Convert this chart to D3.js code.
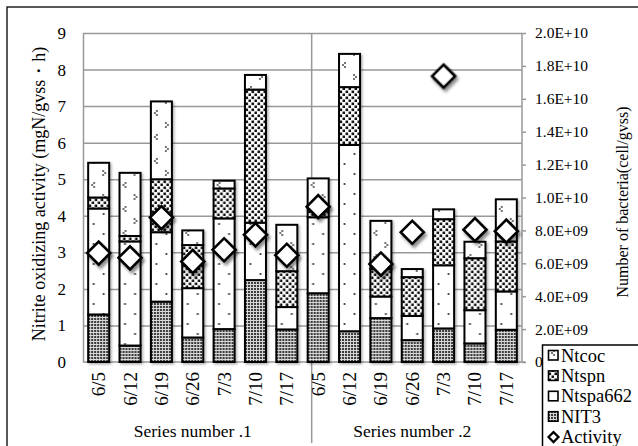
<!DOCTYPE html>
<html>
<head>
<meta charset="utf-8">
<script src="https://cdn.jsdelivr.net/npm/d3@7/dist/d3.min.js"></script>
<style>
  html, body { margin: 0; padding: 0; background: #fff; }
  svg text { font-family: "Liberation Serif", "Times New Roman", Times, "DejaVu Serif", serif !important; fill: #000; }
</style>
</head>
<body>
<div id="chart"></div>
<script>
// Sampling dates (repeated for each series) and series group labels
const categories = ["6/5", "6/12", "6/19", "6/26", "7/3", "7/10", "7/17"];
const groups = ["Series number .1", "Series number .2"];

// Bacteria counts per group (cell/gvss), stacked bottom to top: NIT3, Ntspa662, Ntspn, Ntcoc
const nit3     = [2.89e9, 1.00e9, 3.67e9, 1.49e9, 2.00e9, 4.98e9, 1.98e9, 4.18e9, 1.87e9, 2.67e9, 1.33e9, 2.04e9, 1.13e9, 1.96e9];
const ntspa662 = [6.44e9, 6.33e9, 4.22e9, 3.00e9, 6.73e9, 3.49e9, 1.36e9, 4.62e9, 11.33e9, 1.31e9, 1.47e9, 3.84e9, 2.02e9, 2.33e9];
const ntspn    = [0.67e9, 0.33e9, 3.22e9, 2.62e9, 1.82e9, 8.09e9, 2.18e9, 0.58e9, 3.51e9, 1.67e9, 2.36e9, 2.80e9, 3.16e9, 3.04e9];
const ntcoc    = [2.11e9, 3.84e9, 4.73e9, 0.89e9, 0.47e9, 0.89e9, 2.82e9, 1.78e9, 2.02e9, 2.93e9, 0.49e9, 0.60e9, 1.00e9, 2.56e9];

// Nitrite oxidizing activity (mgN/gvss・h); null where not measured
const activity = [2.98, 2.85, 3.95, 2.75, 3.07, 3.48, 2.92, 4.25, null, 2.68, 3.55, 7.82, 3.62, 3.58];

// Axis tick values
const leftTicks = [0, 1, 2, 3, 4, 5, 6, 7, 8, 9];
const rightTicks = [0, 2e9, 4e9, 6e9, 8e9, 1e10, 1.2e10, 1.4e10, 1.6e10, 1.8e10, 2e10];

const W = 638, H = 446;
const m = { left: 83, right: 522, top: 33, bottom: 362 };

const svg = d3.select("#chart").append("svg").attr("width", W).attr("height", H);
const defs = svg.append("defs");

// soft drop shadows
const shadow = defs.append("filter").attr("id", "shadow").attr("x", "-50%").attr("y", "-50%").attr("width", "200%").attr("height", "200%");
shadow.append("feDropShadow").attr("dx", 2).attr("dy", 3).attr("stdDeviation", 1.8).attr("flood-color", "#000").attr("flood-opacity", 0.45);
const shadowBar = defs.append("filter").attr("id", "shadowBar").attr("x", "-20%").attr("y", "-5%").attr("width", "140%").attr("height", "110%");
shadowBar.append("feDropShadow").attr("dx", 1.5).attr("dy", 1.5).attr("stdDeviation", 1.2).attr("flood-color", "#000").attr("flood-opacity", 0.3);

const nBars = nit3.length;
const keys = d3.range(nBars);

const x = d3.scaleBand().domain(keys).range([m.left, m.right]).paddingInner(0.33).paddingOuter(0.165);
const yL = d3.scaleLinear().domain([0, 9]).range([m.bottom, m.top]);
const yR = d3.scaleLinear().domain([0, 2e10]).range([m.bottom, m.top]);

// Fill patterns, one set per bar so the texture lines up with each bar's left edge
function makePatterns(id, ox) {
  // NIT3: dense dark dot grid
  const p1 = defs.append("pattern").attr("id", "nit3-" + id).attr("patternUnits", "userSpaceOnUse")
    .attr("width", 3).attr("height", 3).attr("x", ox).attr("y", 0);
  p1.append("rect").attr("width", 3).attr("height", 3).attr("fill", "#d8d8d8");
  p1.append("rect").attr("width", 2).attr("height", 2).attr("fill", "#3a3a3a");
  // Ntspa662: sparse dots
  const p2 = defs.append("pattern").attr("id", "spa-" + id).attr("patternUnits", "userSpaceOnUse")
    .attr("width", 21).attr("height", 20).attr("x", ox).attr("y", 0);
  p2.append("rect").attr("width", 21).attr("height", 20).attr("fill", "#fff");
  p2.append("circle").attr("cx", 5.5).attr("cy", 4).attr("r", 1.1).attr("fill", "#333");
  p2.append("circle").attr("cx", 15.5).attr("cy", 14).attr("r", 1.1).attr("fill", "#333");
  // Ntspn: checkerboard
  const p3 = defs.append("pattern").attr("id", "spn-" + id).attr("patternUnits", "userSpaceOnUse")
    .attr("width", 6).attr("height", 6).attr("x", ox).attr("y", 0);
  p3.append("rect").attr("width", 6).attr("height", 6).attr("fill", "#fff");
  p3.append("rect").attr("x", 0.5).attr("y", 0.5).attr("width", 2.6).attr("height", 2.6).attr("fill", "#111");
  p3.append("rect").attr("x", 3.5).attr("y", 3.5).attr("width", 2.6).attr("height", 2.6).attr("fill", "#111");
  // Ntcoc: small three-dot clusters
  const p4 = defs.append("pattern").attr("id", "coc-" + id).attr("patternUnits", "userSpaceOnUse")
    .attr("width", 21).attr("height", 24).attr("x", ox).attr("y", 0);
  p4.append("rect").attr("width", 21).attr("height", 24).attr("fill", "#fff");
  [[15, 3], [17, 5], [15, 7], [6, 15], [4, 17], [6, 19]].forEach(([cx, cy]) =>
    p4.append("circle").attr("cx", cx).attr("cy", cy).attr("r", 0.9).attr("fill", "#333"));
}
keys.forEach(i => makePatterns(i, x(i)));
makePatterns("lg", 548);

// Outer chart frame
svg.append("rect").attr("x", 7).attr("y", 7).attr("width", W + 10).attr("height", H + 10)
  .attr("fill", "none").attr("stroke", "#000").attr("stroke-width", 1.3);

// Gridlines on the left scale
svg.append("g").attr("transform", `translate(${m.left},0)`)
  .call(d3.axisLeft(yL).tickValues(leftTicks.slice(1)).tickSize(-(m.right - m.left)).tickFormat(""))
  .call(g => g.select(".domain").remove())
  .call(g => g.selectAll("line").attr("stroke", "#999").attr("stroke-width", 1.5));

// Left axis
svg.append("g").attr("transform", `translate(${m.left},0)`)
  .call(d3.axisLeft(yL).tickValues(leftTicks).tickSize(0).tickPadding(17))
  .call(g => g.select(".domain").attr("stroke", "#999").attr("stroke-width", 1.5))
  .call(g => g.selectAll("text").attr("font-size", 17));

// Right axis
function sci(v) {
  if (v === 0) return "0";
  const e = Math.floor(Math.log10(v) + 1e-9);
  const mant = (v / Math.pow(10, e)).toFixed(1);
  return `${mant}E+${String(e).padStart(2, "0")}`;
}
svg.append("g").attr("transform", `translate(${m.right},0)`)
  .call(d3.axisRight(yR).tickValues(rightTicks).tickSize(4).tickPadding(9).tickFormat(sci))
  .call(g => g.select(".domain").attr("stroke", "#999").attr("stroke-width", 1.5).attr("d", `M0,${m.bottom}V${m.top}`))
  .call(g => g.selectAll("line").attr("stroke", "#999").attr("stroke-width", 1.5))
  .call(g => g.selectAll("text").attr("font-size", 15.5));

// Baseline
svg.append("line").attr("x1", m.left).attr("x2", m.right + 3).attr("y1", m.bottom).attr("y2", m.bottom)
  .attr("stroke", "#999").attr("stroke-width", 1.5);

// Group separator
const sepX = x(categories.length) + 4;
svg.append("line").attr("x1", sepX).attr("x2", sepX).attr("y1", m.top).attr("y2", 443)
  .attr("stroke", "#999").attr("stroke-width", 1.5);

// Stacked bars
const rows = keys.map(i => ({ i, nit3: nit3[i], spa: ntspa662[i], spn: ntspn[i], coc: ntcoc[i] }));
const stack = d3.stack().keys(["nit3", "spa", "spn", "coc"])(rows);

const bars = svg.append("g").attr("filter", "url(#shadowBar)");
stack.forEach(layer => {
  bars.append("g").selectAll("rect").data(layer).join("rect")
    .attr("x", d => x(d.data.i))
    .attr("width", x.bandwidth())
    .attr("y", d => yR(d[1]))
    .attr("height", d => yR(d[0]) - yR(d[1]))
    .attr("fill", d => `url(#${layer.key}-${d.data.i})`)
    .attr("stroke", "#000").attr("stroke-width", 2);
});

// Activity markers
const diamond = d3.symbol().type(d3.symbolSquare).size(265);
svg.append("g").attr("filter", "url(#shadow)").selectAll("path")
  .data(keys.filter(i => activity[i] != null)).join("path")
  .attr("d", diamond)
  .attr("transform", i => `translate(${x(i) + x.bandwidth() / 2},${yL(activity[i])}) rotate(45)`)
  .attr("fill", "#fff").attr("stroke", "#000").attr("stroke-width", 2.6);

// Category labels
svg.append("g").selectAll("text").data(keys).join("text")
  .attr("transform", i => `translate(${x(i) + x.bandwidth() / 2 + 6.5},372) rotate(-90)`)
  .attr("text-anchor", "end").attr("font-size", 19)
  .text(i => categories[i % categories.length]);

// Group labels
groups.forEach((g, gi) => {
  const a = x(gi * categories.length), b = x(gi * categories.length + categories.length - 1) + x.bandwidth();
  svg.append("text").attr("x", (a + b) / 2).attr("y", 437).attr("text-anchor", "middle")
    .attr("font-size", 17.5).text(g);
});

// Axis titles
svg.append("text").attr("transform", "translate(45,194) rotate(-90)").attr("text-anchor", "middle")
  .attr("font-size", 18).text("Nitrite oxidizing activity (mgN/gvss・h)");
svg.append("text").attr("transform", "translate(628,202) rotate(-90)").attr("text-anchor", "middle")
  .attr("font-size", 16).text("Number of bacteria(cell/gvss)");

// Legend
const lg = svg.append("g");
lg.append("rect").attr("x", 542.5).attr("y", 345).attr("width", 120).attr("height", 120)
  .attr("fill", "#fff").attr("stroke", "#000").attr("stroke-width", 1.5);
const legendItems = [
  { name: "Ntcoc", fill: "url(#coc-lg)" },
  { name: "Ntspn", fill: "url(#spn-lg)" },
  { name: "Ntspa662", fill: "url(#spa-lg)" },
  { name: "NIT3", fill: "url(#nit3-lg)" },
  { name: "Activity", fill: null }
];
legendItems.forEach((it, k) => {
  const cy = 355.5 + k * 20.4;
  if (it.fill) {
    lg.append("rect").attr("x", 548.5).attr("y", cy - 5).attr("width", 9.5).attr("height", 9.5)
      .attr("fill", it.fill).attr("stroke", "#000").attr("stroke-width", 1.6);
  } else {
    lg.append("path").attr("d", d3.symbol().type(d3.symbolSquare).size(50))
      .attr("transform", `translate(553.5,${cy}) rotate(45)`)
      .attr("fill", "#fff").attr("stroke", "#000").attr("stroke-width", 2.2);
  }
  lg.append("text").attr("x", 561).attr("y", cy + 6).attr("font-size", 18.5).text(it.name);
});
</script>
</body>
</html>
